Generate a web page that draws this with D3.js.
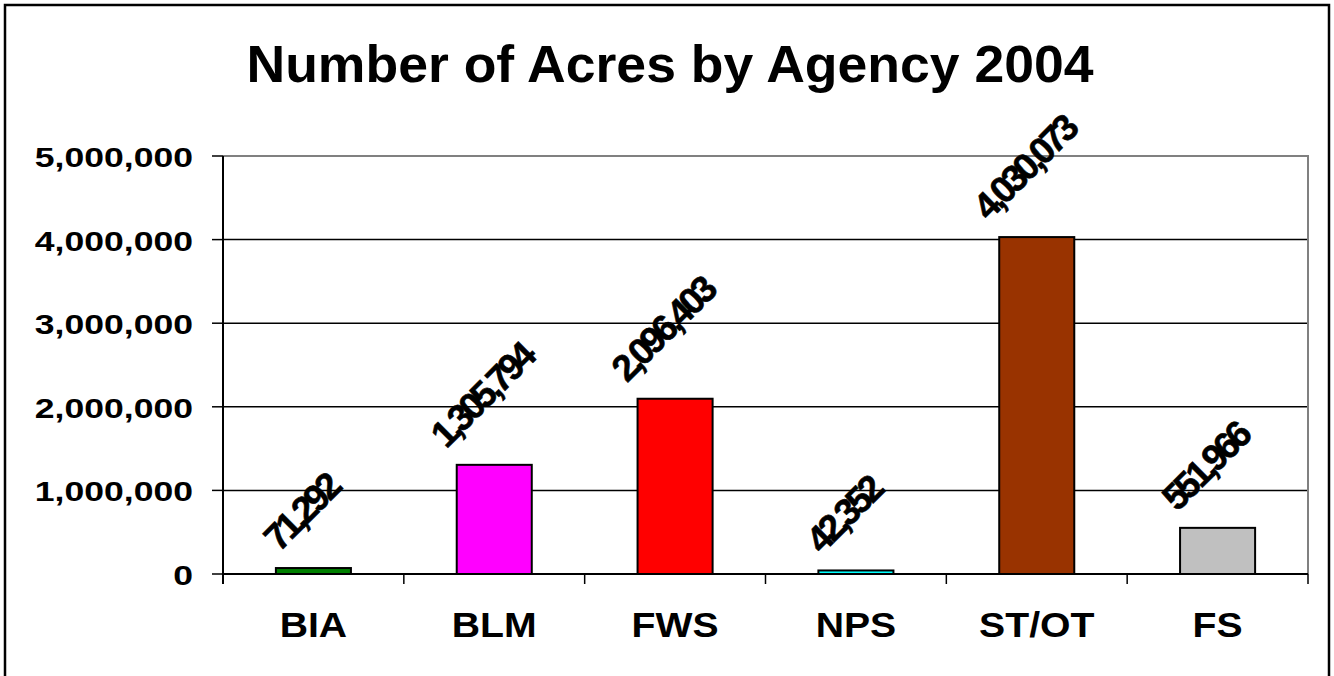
<!DOCTYPE html>
<html>
<head>
<meta charset="utf-8">
<script src="https://cdn.jsdelivr.net/npm/d3@7/dist/d3.min.js"></script>
<style>
  html, body { margin: 0; padding: 0; background: #fff; }
  svg { display: block; }
  text { font-family: "Liberation Sans", Arial, sans-serif; font-weight: bold; fill: #000; }
</style>
</head>
<body>
<svg id="chart" width="1334" height="676"></svg>
<script>
// ---- data ----
const title = "Number of Acres by Agency 2004";
const categories = ["BIA", "BLM", "FWS", "NPS", "ST/OT", "FS"];
const acres = [71292, 1305794, 2096403, 42352, 4030073, 551966];
const barColors = ["#008000", "#FF00FF", "#FF0000", "#00FFFF", "#993300", "#C0C0C0"];
const yTickValues = [0, 1000000, 2000000, 3000000, 4000000, 5000000];

// ---- layout ----
const plot = { left: 223, right: 1308, top: 156, bottom: 574 };
const svg = d3.select("#chart");

// outer frame
svg.append("rect")
  .attr("x", 5).attr("y", 5).attr("width", 1324).attr("height", 680)
  .attr("fill", "#fff").attr("stroke", "#000").attr("stroke-width", 2.5);

const x = d3.scaleBand().domain(categories).range([plot.left, plot.right]).padding(0);
const y = d3.scaleLinear().domain([0, 5000000]).range([plot.bottom, plot.top]);
const fmt = d3.format(",");

// title
svg.append("text")
  .attr("transform", `translate(670,82) scale(1.03,1)`)
  .attr("text-anchor", "middle")
  .style("font-size", "52px")
  .text(title);

// gridlines (inner)
svg.append("g").selectAll("line")
  .data(yTickValues.filter(v => v > 0 && v < 5000000))
  .join("line")
  .attr("x1", plot.left).attr("x2", plot.right)
  .attr("y1", d => y(d)).attr("y2", d => y(d))
  .attr("stroke", "#000").attr("stroke-width", 1.5);

// plot border top/right (gray)
svg.append("path")
  .attr("d", `M${plot.left},${y(5000000)}H${plot.right}V${plot.bottom}`)
  .attr("fill", "none").attr("stroke", "#808080").attr("stroke-width", 2);

// bars
const barFrac = 0.415;
svg.append("g").selectAll("rect")
  .data(categories)
  .join("rect")
  .attr("x", (d) => x(d) + x.bandwidth() * (1 - barFrac) / 2)
  .attr("width", x.bandwidth() * barFrac)
  .attr("y", (d, i) => y(acres[i]))
  .attr("height", (d, i) => y(0) - y(acres[i]))
  .attr("fill", (d, i) => barColors[i])
  .attr("stroke", "#000").attr("stroke-width", 2);

// y axis
const yAxis = svg.append("g");
yAxis.append("line")
  .attr("x1", plot.left).attr("x2", plot.left)
  .attr("y1", plot.top).attr("y2", plot.bottom + 10)
  .attr("stroke", "#000").attr("stroke-width", 2);
yAxis.selectAll("line.tick")
  .data(yTickValues)
  .join("line").attr("class", "tick")
  .attr("x1", plot.left - 11).attr("x2", plot.left)
  .attr("y1", d => y(d)).attr("y2", d => y(d))
  .attr("stroke", "#000").attr("stroke-width", 1.5);
yAxis.selectAll("text")
  .data(yTickValues)
  .join("text")
  .attr("transform", d => `translate(193,${y(d) + 11}) scale(1.27,1)`)
  .attr("text-anchor", "end")
  .style("font-size", "28px")
  .text(d => fmt(d));

// x axis
const xAxis = svg.append("g");
xAxis.append("line")
  .attr("x1", plot.left).attr("x2", plot.right)
  .attr("y1", plot.bottom).attr("y2", plot.bottom)
  .attr("stroke", "#000").attr("stroke-width", 2);
const boundaries = categories.map(c => x(c)).concat([x(categories[categories.length - 1]) + x.bandwidth()]);
xAxis.selectAll("line.tick")
  .data(boundaries)
  .join("line").attr("class", "tick")
  .attr("x1", d => d).attr("x2", d => d)
  .attr("y1", plot.bottom).attr("y2", plot.bottom + 10)
  .attr("stroke", "#000").attr("stroke-width", 1.5);
xAxis.selectAll("text")
  .data(categories)
  .join("text")
  .attr("transform", d => `translate(${x(d) + x.bandwidth() / 2},637) scale(1.12,1)`)
  .attr("text-anchor", "middle")
  .style("font-size", "35px")
  .text(d => d);

// data labels (rotated)
const lblScale = 1.0, lblH = 26;
const labels = svg.append("g").selectAll("text")
  .data(categories)
  .join("text")
  .attr("text-anchor", "middle")
  .attr("dominant-baseline", "central")
  .style("font-size", "37px")
  .style("letter-spacing", "-4.2px")
  .style("stroke", "#000").style("stroke-width", 0.6)
  .text((d, i) => fmt(acres[i]));
labels.each(function (d, i) {
  const L = this.getComputedTextLength() * lblScale;
  const ext = (L + lblH) * Math.SQRT1_2;
  const cx = x(d) + x.bandwidth() / 2 - 12;
  const cy = y(acres[i]) - 15 - ext / 2;
  d3.select(this).attr("transform", `translate(${cx},${cy}) rotate(-45) scale(${lblScale},1)`);
});
</script>
</body>
</html>
